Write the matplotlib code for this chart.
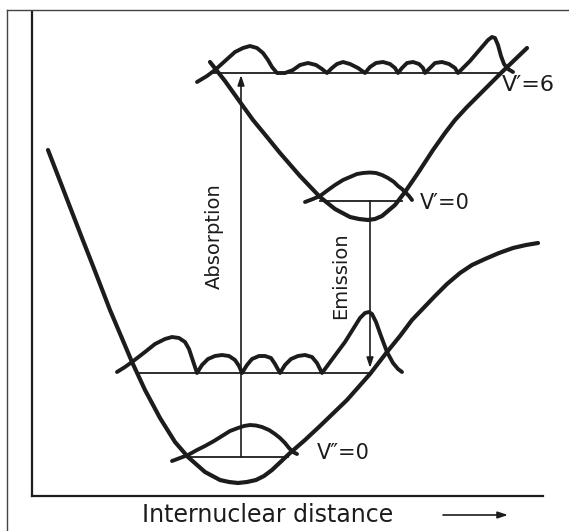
import matplotlib
matplotlib.use("Agg")
import matplotlib.pyplot as plt
from matplotlib.lines import Line2D

# Potential energy curves (internuclear distance, energy)
r_ground = [16, 28, 38, 50, 61, 78, 100, 113, 128, 143, 156, 173, 188, 197, 206, 215, 224,
            232, 240, 258, 273, 288, 315, 338, 355, 368, 380, 403, 415, 428, 440, 453,
            467, 481, 494, 506]
e_ground = [346, 315, 289, 258, 230, 186, 134, 106, 78, 54, 39, 24, 16, 14, 13, 14, 16,
            20, 26, 43, 56, 70, 96, 122, 144, 160, 176, 200, 212, 223, 231, 237,
            243, 248, 251, 253]

r_excited = [178, 193, 208, 221, 235, 248, 268, 288, 303, 318, 327, 336, 343, 350, 363,
             373, 386, 401, 413, 423, 435, 448, 470, 495]
e_excited = [434, 415, 394, 376, 359, 343, 320, 299, 287, 279, 277, 276, 277, 280, 291,
             304, 323, 346, 363, 376, 389, 402, 424, 448]

# Vibrational levels: (energy, r_start, r_end)
level_v0_lo = (39, 156, 256)
level_v6_lo = (123, 105, 340)
level_v0_up = (295, 288, 370)
level_v6_up = (423, 181, 466)

# Probability curves drawn on the levels
r_psi_v6_up = [165, 175, 183, 193, 203, 211, 218, 225, 231, 236, 240, 245,
               253, 261, 268, 276, 284, 290, 295,
               300, 305, 311, 318, 326, 333,
               338, 344, 351, 358, 363, 366,
               370, 375, 381, 387, 391, 393,
               398, 403, 410, 417, 423, 426,
               438, 450, 456, 460, 463, 466, 469, 472, 476, 481]
e_psi_v6_up = [414, 420, 426, 435, 444, 448, 450, 448, 443, 436, 429, 423,
               423, 426, 431, 433, 431, 427, 423,
               428, 432, 434, 432, 428, 423,
               429, 433, 434, 432, 428, 423,
               428, 433, 434, 432, 428, 423,
               428, 433, 434, 432, 428, 423,
               435, 449, 456, 459, 458, 451, 440, 432, 427, 424]

r_psi_v6_lo = [85, 93, 100, 113, 123, 133, 140, 147, 153, 157, 160, 163, 165,
               170, 176, 183, 190, 197, 203, 207, 210,
               215, 220, 227, 233, 239, 243, 248,
               253, 259, 266, 273, 280, 285, 290,
               313, 328, 333, 337, 340, 344, 349, 355, 361, 366, 370]
e_psi_v6_lo = [124, 129, 134, 144, 152, 157, 159, 158, 154, 147, 138, 129, 123,
               131, 137, 140, 141, 140, 136, 130, 123,
               131, 137, 140, 140, 138, 132, 123,
               131, 137, 140, 141, 139, 133, 123,
               154, 178, 183, 184, 182, 174, 160, 144, 133, 127, 124]

r_psi_v0_up = [273, 281, 288, 296, 303, 311, 318, 325, 331, 338, 344, 350, 356, 362,
               366, 370, 373, 377, 380]
e_psi_v0_up = [294, 297, 300, 306, 311, 316, 319, 322, 323, 323.5, 323, 321, 318, 314,
               310, 307, 304, 300, 296]

r_psi_v0_lo = [140, 148, 156, 165, 173, 182, 190, 198, 206, 212, 218, 224, 230, 237,
               243, 248, 253, 257, 261, 265]
e_psi_v0_lo = [35, 38, 41, 46, 50, 55, 60, 65, 68, 70, 71, 70.5, 69, 66,
               62, 58, 53, 48, 44, 42]

# Transitions: (r, e_from, e_to)
absorption = (209, 39, 421)
emission = (338, 295, 128)

ink = "#1c1c1c"

fig = plt.figure(figsize=(5.69, 5.31), dpi=100)
fig.patch.set_facecolor("white")
ax = fig.add_axes([32 / 569, 35 / 531, 511 / 569, 484 / 531])
ax.set_xlim(0, 511)
ax.set_ylim(0, 484)
for side in ["top", "right"]:
    ax.spines[side].set_visible(False)
for side in ["left", "bottom"]:
    ax.spines[side].set_linewidth(1.6)
    ax.spines[side].set_color(ink)
ax.set_xticks([])
ax.set_yticks([])

# outer frame of the figure
fig.add_artist(Line2D([7 / 569, 7 / 569], [0, 1 - 10 / 531], transform=fig.transFigure,
                      color="#444444", lw=1.0))
fig.add_artist(Line2D([7 / 569, 1], [1 - 10 / 531, 1 - 10 / 531], transform=fig.transFigure,
                      color="#444444", lw=1.0))

ax.plot(r_ground, e_ground, color=ink, lw=3.0, solid_capstyle="round", solid_joinstyle="round")
ax.plot(r_excited, e_excited, color=ink, lw=3.0, solid_capstyle="round", solid_joinstyle="round")

for e, r0, r1 in [level_v0_lo, level_v6_lo, level_v0_up, level_v6_up]:
    ax.plot([r0, r1], [e, e], color=ink, lw=1.3)

for rr, ee in [(r_psi_v6_up, e_psi_v6_up), (r_psi_v6_lo, e_psi_v6_lo),
               (r_psi_v0_up, e_psi_v0_up), (r_psi_v0_lo, e_psi_v0_lo)]:
    ax.plot(rr, ee, color=ink, lw=2.8, solid_joinstyle="round", solid_capstyle="round")

for r, e0, e1 in [absorption, emission]:
    ax.annotate("", xy=(r, e1), xytext=(r, e0),
                arrowprops=dict(arrowstyle="-|>,head_length=0.6,head_width=0.2",
                                color=ink, lw=1.2, shrinkA=0, shrinkB=0))

ax.text(182, 260, "Absorption", rotation=90, ha="center", va="center",
        fontsize=14, color=ink)
ax.text(309, 220, "Emission", rotation=90, ha="center", va="center",
        fontsize=14, color=ink)

ax.text(470, 411, "V′=6", ha="left", va="center", fontsize=16, color=ink)
ax.text(388, 293, "V′=0", ha="left", va="center", fontsize=15, color=ink)
ax.text(285, 43, "V″=0", ha="left", va="center", fontsize=15, color=ink)

ax.text(236, -19, "Internuclear distance", ha="center", va="center",
        fontsize=17, color=ink, clip_on=False)
ax.annotate("", xy=(476, -19), xytext=(411, -19), annotation_clip=False,
            arrowprops=dict(arrowstyle="-|>,head_length=0.6,head_width=0.2",
                            color=ink, lw=1.2, shrinkA=0, shrinkB=0))

fig.savefig("out.png", dpi=100)
